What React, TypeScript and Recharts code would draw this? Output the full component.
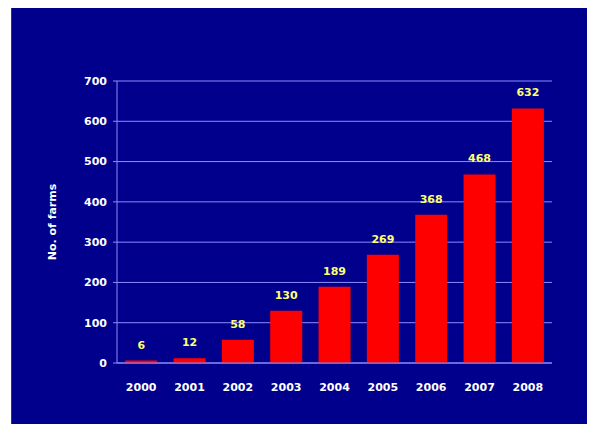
import React from "react";
import { BarChart, Bar, XAxis, YAxis, CartesianGrid, LabelList, Label } from "recharts";

const years = ["2000", "2001", "2002", "2003", "2004", "2005", "2006", "2007", "2008"];
const farms = [6, 12, 58, 130, 189, 269, 368, 468, 632];
const yTicks = [0, 100, 200, 300, 400, 500, 600, 700];

const data = years.map((y, i) => ({ year: y, farms: farms[i] }));

const FONT = "'DejaVu Sans', Verdana, sans-serif";
const GRID = "#8c8cff";

export default function App() {
  return (
    <div style={{ margin: -8, width: 595, height: 432, background: "#ffffff", position: "relative", overflow: "hidden" }}>
      <div
        style={{
          position: "absolute",
          left: 11,
          top: 6,
          width: 584,
          height: 426,
          background: "#00008c",
          borderLeft: "1px solid #2a2a9a",
          borderTop: "1px solid #3a3aa8",
          boxSizing: "border-box",
        }}
      >
        <BarChart
          width={583}
          height={425}
          data={data}
          margin={{ top: 74, right: 43, left: 0, bottom: 0 }}
          barCategoryGap="17%"
        >
          <CartesianGrid vertical={false} stroke={GRID} strokeWidth={1} />
          <XAxis
            dataKey="year"
            height={69}
            stroke={GRID}
            tickLine={false}
            tickMargin={14}
            tick={{ fill: "#ffffff", fontSize: 11, fontWeight: "bold", fontFamily: FONT }}
          />
          <YAxis
            domain={[0, 700]}
            ticks={yTicks}
            width={105}
            stroke={GRID}
            tickSize={4}
            tickMargin={6}
            interval={0}
            tick={{ fill: "#ffffff", fontSize: 11, fontWeight: "bold", fontFamily: FONT }}
          >
            <Label
              value="No. of farms"
              angle={-90}
              position="insideLeft"
              offset={40}
              style={{ fill: "#ffffff", fontSize: 11, fontWeight: "bold", fontFamily: FONT, textAnchor: "middle" }}
            />
          </YAxis>
          <YAxis yAxisId="r" orientation="right" width={0} tick={false} tickLine={false} stroke={GRID} domain={[0, 700]} />
          <Bar dataKey="farms" fill="#ff0000" isAnimationActive={false}>
            <LabelList
              dataKey="farms"
              position="top"
              offset={12}
              style={{ fill: "#ffff70", fontSize: 11, fontWeight: "bold", fontFamily: FONT }}
            />
          </Bar>
        </BarChart>
      </div>
    </div>
  );
}
